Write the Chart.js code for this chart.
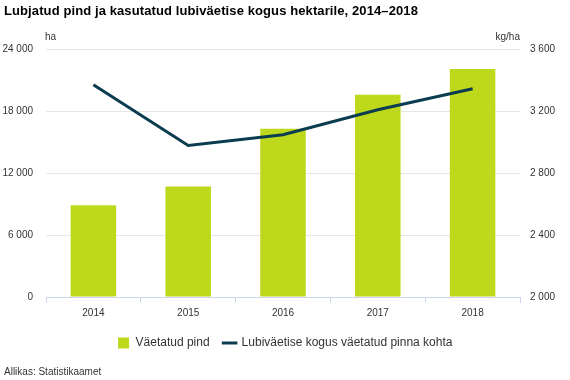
<!DOCTYPE html>
<html>
<head>
<meta charset="utf-8">
<script src="https://cdn.jsdelivr.net/npm/chart.js@4.4.1/dist/chart.umd.min.js"></script>
<style>
  html, body { margin: 0; padding: 0; background: #fff; }
  body { width: 570px; height: 380px; position: relative; overflow: hidden; font-family: "Liberation Sans", Arial, sans-serif; color: #333; }
  #title { position: absolute; left: 4px; top: 3px; font-size: 13px; font-weight: bold; color: #000; letter-spacing: 0.1px; }
  .unit { position: absolute; top: 31px; font-size: 10px; color: #333; }
  #unitLeft { left: 45px; }
  #unitRight { right: 50px; }
  #source { position: absolute; left: 4px; top: 366px; font-size: 10px; color: #333; }
  #wrap { position: absolute; left: 0; top: 0; width: 570px; height: 380px; }
</style>
</head>
<body>
<div id="wrap"><canvas id="myChart" width="570" height="380"></canvas></div>
<div id="title">Lubjatud pind ja kasutatud lubiväetise kogus hektarile, 2014–2018</div>
<div class="unit" id="unitLeft">ha</div>
<div class="unit" id="unitRight">kg/ha</div>
<div id="source">Allikas: Statistikaamet</div>
<script>
'use strict';

// data
var years = ['2014', '2015', '2016', '2017', '2018'];
var limedArea = [8870, 10700, 16290, 19570, 22070];      // ha
var limePerHa = [3369, 2977, 3047, 3208, 3343];         // kg/ha
var areaLabel = 'Väetatud pind';
var rateLabel = 'Lubiväetise kogus väetatud pinna kohta';

function fmt(v) {
  return String(v).replace(/\B(?=(\d{3})+(?!\d))/g, ' ');
}

var ctx = document.getElementById('myChart');
var myChart = new Chart(ctx, {
  data: {
    labels: years,
    datasets: [{
      type: 'line',
      label: rateLabel,
      data: limePerHa,
      yAxisID: 'y1',
      borderColor: '#0b3c50',
      backgroundColor: '#0b3c50',
      borderWidth: 3,
      pointRadius: 0,
      pointStyle: 'line',
      tension: 0,
      order: 0
    }, {
      type: 'bar',
      label: areaLabel,
      data: limedArea,
      yAxisID: 'y',
      backgroundColor: '#bed81b',
      barPercentage: 0.48,
      categoryPercentage: 1,
      pointStyle: 'rect',
      order: 1
    }]
  },
  options: {
    responsive: false,
    animation: false,
    layout: { padding: { top: 49, left: 0, right: 0, bottom: 21 } },
    plugins: {
      title: { display: false },
      tooltip: { enabled: false },
      legend: {
        position: 'bottom',
        reverse: true,
        labels: {
          usePointStyle: true,
          boxWidth: 12,
          boxHeight: 11,
          padding: 14,
          color: '#333',
          font: { family: '"Liberation Sans", Arial, sans-serif', size: 12 }
        }
      }
    },
    scales: {
      x: {
        offset: true,
        grid: { offset: true, drawOnChartArea: false, drawTicks: true, tickLength: 6, color: '#ccd6eb' },
        border: { color: '#ccd6eb' },
        ticks: { color: '#333', padding: 4, font: { family: '"Liberation Sans", Arial, sans-serif', size: 10 } }
      },
      y: {
        position: 'left',
        min: 0, max: 24000,
        afterFit: function (scale) { scale.width = 46; },
        grid: { color: '#e6e6e6', drawTicks: false },
        border: { display: false },
        ticks: {
          stepSize: 6000, padding: 13, color: '#333',
          font: { family: '"Liberation Sans", Arial, sans-serif', size: 10 },
          callback: function (v) { return fmt(v); }
        }
      },
      y1: {
        position: 'right',
        min: 2000, max: 3600,
        afterFit: function (scale) { scale.width = 50; },
        grid: { drawOnChartArea: false, drawTicks: false },
        border: { display: false },
        ticks: {
          stepSize: 400, padding: 10, color: '#333',
          font: { family: '"Liberation Sans", Arial, sans-serif', size: 10 },
          callback: function (v) { return fmt(v); }
        }
      }
    }
  }
});
</script>
</body>
</html>
